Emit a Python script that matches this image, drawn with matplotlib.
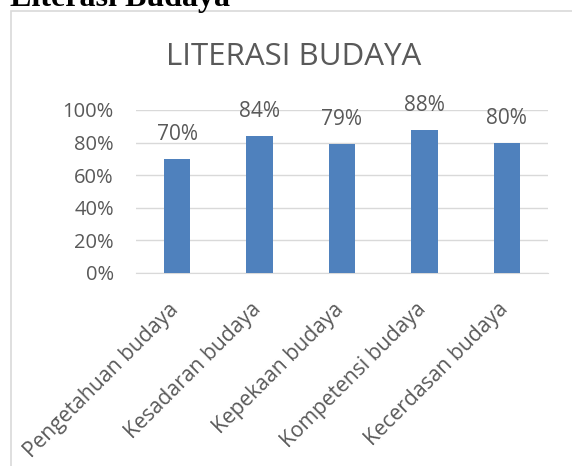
import matplotlib.pyplot as plt
from matplotlib.patches import Rectangle
from matplotlib.ticker import PercentFormatter
from matplotlib.transforms import ScaledTranslation

categories = ["Pengetahuan budaya", "Kesadaran budaya", "Kepekaan budaya",
              "Kompetensi budaya", "Kecerdasan budaya"]
values = [0.70, 0.84, 0.79, 0.88, 0.80]
value_labels = ["70%", "84%", "79%", "88%", "80%"]

plt.rcParams["font.family"] = ["Open Sans", "DejaVu Sans"]
grey = "#595959"

fig = plt.figure(figsize=(5.72, 4.66), dpi=100)

# heading above the chart, cut off at the top
fig.text(10 / 572, 1 - 6 / 466, "Literasi Budaya", family="Liberation Serif",
         weight="bold", fontsize=23, va="baseline", ha="left")

# chart border (runs off the right and bottom)
fig.patches.append(Rectangle((11 / 572, -0.1), 1.2, 1 - 11 / 466 + 0.1,
                             transform=fig.transFigure, fill=False,
                             edgecolor="#d9d9d9", linewidth=1.2))

ax = fig.add_axes([136 / 572, 1 - 273 / 466, 412 / 572, 163 / 466])
x = range(len(categories))
bars = ax.bar(x, values, width=0.32, color="#4f81bd", zorder=3)
for b, lab in zip(bars, value_labels):
    ax.text(b.get_x() + b.get_width() / 2, b.get_height() + 0.085, lab,
            ha="center", va="bottom", fontsize=15, color=grey)

ax.set_xlim(-0.5, len(categories) - 0.5)
ax.set_ylim(0, 1)
ax.set_yticks([0, 0.2, 0.4, 0.6, 0.8, 1.0])
ax.yaxis.set_major_formatter(PercentFormatter(1.0, decimals=0))
ax.grid(axis="y", color="#d9d9d9", linewidth=1, zorder=0)
for s in ax.spines.values():
    s.set_visible(False)
ax.spines["bottom"].set_visible(True)
ax.spines["bottom"].set_color("#d9d9d9")
ax.tick_params(axis="y", length=0, colors=grey, labelsize=14.5, pad=16)
ax.tick_params(axis="x", length=0, colors=grey, labelsize=15.2, pad=10)
ax.set_xticks(list(x))
ax.set_xticklabels(categories, rotation=45, ha="right", rotation_mode="anchor")
shift = ScaledTranslation(-0.09, -0.12, fig.dpi_scale_trans)
for t in ax.get_xticklabels():
    t.set_transform(t.get_transform() + shift)

fig.text(294 / 572, 1 - 57 / 466, "LITERASI BUDAYA", ha="center", va="center",
         fontsize=22.5, color=grey)

fig.savefig("out.png", dpi=100)
